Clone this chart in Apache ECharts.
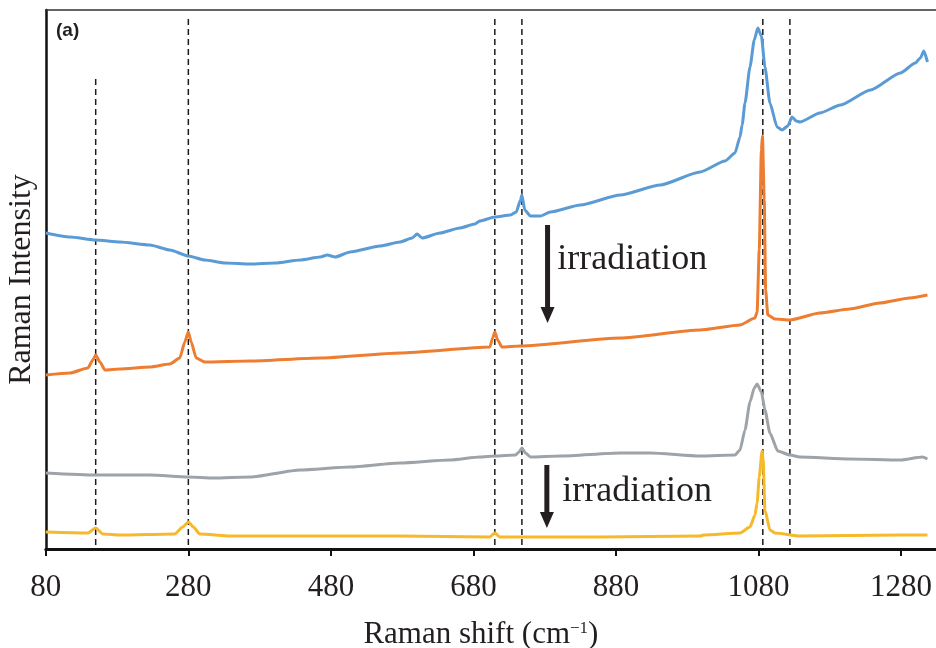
<!DOCTYPE html>
<html><head><meta charset="utf-8">
<script src="https://cdn.jsdelivr.net/npm/echarts@6/dist/echarts.min.js"></script>
<style>html,body{margin:0;padding:0;background:#fff}#c{width:936px;height:648px}</style>
</head><body><div id="c"></div>
<script>
// x: Raman shift (cm^-1), y: relative intensity (arbitrary units, offset stacked)
const xTicks = [80, 280, 480, 680, 880, 1080, 1280];

const blueSpec = [[80,316],[114,312],[150,309],[184,307],[226,304],[254,299],[280,293],[303,289],[332,286],[367,285],[402,286],[437,289],[465,292],[475,294],[486,292],[507,297],[549,303],[577,307],[594,311],[601,315],[608,311],[633,316],[661,321],[682,325],[689,328],[710,332],[732,334],[740,337],[746,349],[748,354],[752,339],[760,333],[774,333],[788,337],[830,344],[886,354],[942,364],[998,377],[1033,388],[1047,396],[1054,412],[1057,424],[1061,446],[1068,482],[1074,509],[1079,521],[1084,513],[1089,482],[1096,446],[1106,422],[1113,419],[1121,423],[1127,432],[1133,428],[1138,427],[1166,436],[1195,444],[1237,459],[1279,476],[1300,486],[1307,491],[1312,498],[1317,487]];

const orangeSpec = [[80,174],[114,176],[139,181],[146,189],[150,194],[156,187],[163,179],[184,180],[226,182],[254,185],[268,191],[275,207],[280,217],[284,207],[291,191],[303,187],[367,188],[465,191],[577,196],[703,202],[707,211],[710,217],[714,209],[720,202],[746,203],[886,211],[998,219],[1054,224],[1075,231],[1078,237],[1081,299],[1084,399],[1085.5,413],[1088,349],[1090,259],[1093,234],[1103,230],[1124,229],[1166,236],[1208,240],[1250,246],[1292,251],[1317,254]];

const graySpec = [[80,76],[150,74],[226,74],[280,72],[315,71],[367,72],[437,79],[507,82],[577,86],[647,89],[689,92],[710,93],[739,94],[744,97],[748,101],[753,96],[760,92],[802,93],[886,96],[928,96],[998,93],[1047,94],[1054,99],[1061,119],[1068,147],[1074,161],[1078,165],[1084,157],[1089,139],[1096,116],[1107,98],[1124,94],[1138,92],[1208,90],[1279,89],[1310,92],[1317,90]];

const yellowSpec = [[80,17],[139,16],[150,21],[160,15],[184,14],[261,15],[272,22],[280,27],[287,22],[296,15],[339,13],[437,13],[577,13],[703,12],[710,16],[717,12],[857,12],[998,13],[1003,14],[1054,16],[1068,22],[1075,34],[1078,46],[1081,72],[1085,98],[1086.5,89],[1089,39],[1096,19],[1103,16],[1138,13],[1279,14],[1317,14]];

// reference dashed lines: [x, top y]
const refLines = [[150,472],[280,532],[710,532],[748,532],[1086,532],[1124,532]];
const refBottom = 4;

// annotations: arrows [x, yTop, yTip], labels [x, yMiddle, text]
const arrows = [[784,324,226],[783,84,21]];
const labels = [[797.5,289,'irradiation'],[804.5,57,'irradiation']];

const SERIF = '"Liberation Serif", "Times New Roman", serif';
const chart = echarts.init(document.getElementById('c'), null, {renderer:'canvas'});

const series = [];
refLines.forEach(function(r){
  series.push({type:'line', data:[[r[0],refBottom],[r[0],r[1]]], showSymbol:false, silent:true,
    lineStyle:{color:'#1a1a1a', width:1.5, type:[6,4]}, z:1});
});
const curves = [[blueSpec,'#5b9bd5'],[orangeSpec,'#ed7d31'],[graySpec,'#9ea3a8'],[yellowSpec,'#f6b92b']];
curves.forEach(function(c){
  series.push({type:'line', data:c[0], showSymbol:false, smooth:0.2, smoothMonotone:'x',
    lineStyle:{color:c[1], width:3}, z:3});
});

chart.setOption({
  animation:false,
  backgroundColor:'#fff',
  grid:{left:45.8, right:0, top:10, bottom:99, containLabel:false, outerBoundsMode:'none'},
  xAxis:[{
    type:'value', min:80, max:1329, position:'bottom',
    name:'{m|Raman shift (cm}{s|\u22121}{m|)}', nameLocation:'middle', nameGap:71,
    nameTextStyle:{padding:[0,20,0,0], rich:{
      m:{fontFamily:SERIF, fontSize:31, color:'#231f20', lineHeight:30},
      s:{fontFamily:SERIF, fontSize:17, color:'#231f20', lineHeight:16, verticalAlign:'top'}
    }},
    axisLine:{show:true, lineStyle:{color:'#111', width:3}},
    axisTick:{show:true, length:7, inside:false, lineStyle:{color:'#111', width:2}, customValues:xTicks},
    axisLabel:{fontFamily:SERIF, fontSize:31, color:'#231f20', margin:23, customValues:xTicks,
      formatter:function(v){ return String(v); }},
    splitLine:{show:false}
  },{
    type:'value', min:80, max:1329, position:'top',
    axisLine:{show:true, lineStyle:{color:'#333', width:1.5}},
    axisTick:{show:false}, axisLabel:{show:false}, splitLine:{show:false}
  }],
  yAxis:{
    type:'value', min:0, max:539,
    name:'Raman Intensity', nameLocation:'middle', nameGap:8,
    nameTextStyle:{fontFamily:SERIF, fontSize:32, color:'#231f20'},
    axisLine:{show:true, lineStyle:{color:'#111', width:2.5}},
    axisTick:{show:false}, axisLabel:{show:false}, splitLine:{show:false}
  },
  series:series
});

function px(p){ return chart.convertToPixel({xAxisIndex:0, yAxisIndex:0}, p); }
const g = [];
arrows.forEach(function(a){
  const top = px([a[0], a[1]]), tip = px([a[0], a[2]]);
  const headH = 16, headW = 7;
  g.push({type:'rect', shape:{x:top[0]-2.5, y:top[1], width:5, height:tip[1]-headH-top[1]+1}, style:{fill:'#231f20'}});
  g.push({type:'polygon', shape:{points:[[tip[0]-headW, tip[1]-headH],[tip[0]+headW, tip[1]-headH],[tip[0], tip[1]]]}, style:{fill:'#231f20'}});
});
labels.forEach(function(l){
  const p = px([l[0], l[1]]);
  g.push({type:'text', x:p[0], y:p[1], style:{text:l[2], font:'36px ' + SERIF, fill:'#231f20', align:'left', verticalAlign:'middle'}});
});
g.push({type:'text', left:56, top:21, style:{text:'(a)', font:'bold 19px "Liberation Sans", Arial, sans-serif', fill:'#231f20'}});
chart.setOption({graphic:g});
</script>
</body></html>
